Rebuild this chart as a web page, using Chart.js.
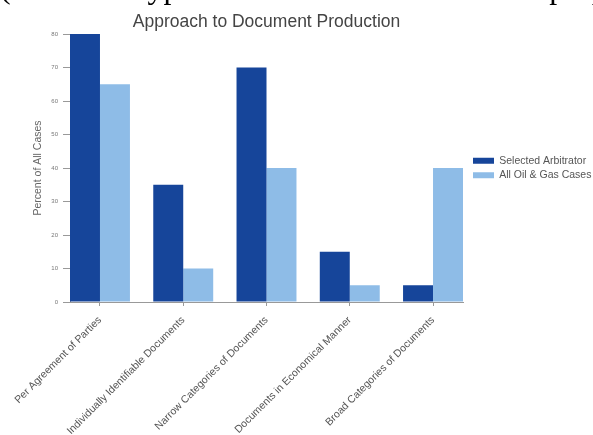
<!DOCTYPE html>
<html>
<head>
<meta charset="utf-8">
<script src="https://cdn.jsdelivr.net/npm/chart.js@4.4.0/dist/chart.umd.min.js"></script>
<style>
  html, body { margin: 0; padding: 0; background: #fff; overflow: hidden; }
  #wrap { position: relative; width: 593px; height: 435px; overflow: hidden; }
  #caption { position: absolute; left: 0; top: -29px; font: 32px/32px "Liberation Serif", serif; white-space: nowrap; color: #000; }
  canvas { position: absolute; left: 0; top: 0; }
</style>
</head>
<body>
<div id="wrap">
  <canvas id="chart" width="593" height="435"></canvas>
  <div id="caption">(based on hypothetical data for illustrative purposes)</div>
</div>
<script>
// Chart data
const categories = [
    'Per Agreement of Parties',
    'Individually Identifiable Documents',
    'Narrow Categories of Documents',
    'Documents in Economical Manner',
    'Broad Categories of Documents'
];
const selectedArbitrator = [80, 35, 70, 15, 5];
const allOilGasCases = [65, 10, 40, 5, 40];
const yTicks = [0, 10, 20, 30, 40, 50, 60, 70, 80];

const labelFont = 'Liberation Sans, Arial, sans-serif';

// nudge the legend a little to the right of the plot edge
const legendShift = {
    id: 'legendShift',
    afterUpdate(chart) {
        if (chart.legend) {
            chart.legend.left += 6;
            chart.legend.right += 6;
        }
    }
};

new Chart(document.getElementById('chart'), {
    type: 'bar',
    data: {
        datasets: [
            {
                label: 'Selected Arbitrator',
                data: selectedArbitrator.map((v, i) => ({ x: i, y: v })),
                backgroundColor: '#16459a'
            },
            {
                label: 'All Oil & Gas Cases',
                data: allOilGasCases.map((v, i) => ({ x: i, y: v })),
                backgroundColor: '#8ebce7'
            }
        ]
    },
    options: {
        responsive: false,
        animation: false,
        categoryPercentage: 0.72,
        barPercentage: 1.0,
        layout: { padding: 0 },
        scales: {
            x: {
                type: 'linear',
                offset: false,
                min: -0.36,
                max: categories.length - 1 + 0.36,
                afterBuildTicks: s => { s.ticks = categories.map((c, i) => ({ value: i })); },
                afterFit: s => { s.height = 133; },
                grid: { offset: false, drawOnChartArea: false, drawTicks: true, tickLength: 4, color: '#999' },
                border: { display: true, color: '#999' },
                ticks: {
                    autoSkip: false,
                    minRotation: 45,
                    maxRotation: 45,
                    padding: 8,
                    color: '#555',
                    font: { family: labelFont, size: 10.5 },
                    callback: value => categories[value]
                }
            },
            y: {
                min: 0,
                max: 80,
                afterBuildTicks: s => { s.ticks = yTicks.map(v => ({ value: v })); },
                afterFit: s => { s.width = 70; },
                grid: { drawOnChartArea: false, drawTicks: true, tickLength: 7, color: '#999' },
                border: { display: true, color: '#999' },
                ticks: {
                    padding: 5,
                    color: '#777',
                    font: { family: labelFont, size: 6 }
                },
                title: {
                    display: true,
                    text: 'Percent of All Cases',
                    color: '#666',
                    font: { family: labelFont, size: 10.5 },
                    padding: { top: 32, bottom: 0 }
                }
            }
        },
        plugins: {
            title: {
                display: true,
                text: 'Approach to Document Production',
                fullSize: false,
                color: '#444',
                font: { family: labelFont, size: 17.5, weight: 'normal' },
                padding: { top: 12, bottom: 1 }
            },
            legend: {
                position: 'right',
                fullSize: false,
                maxWidth: 130,
                labels: {
                    boxWidth: 21,
                    boxHeight: 6,
                    padding: 4,
                    color: '#555',
                    font: { family: labelFont, size: 10.5 }
                }
            },
            tooltip: { enabled: false }
        }
    },
    plugins: [legendShift]
});
</script>
</body>
</html>
